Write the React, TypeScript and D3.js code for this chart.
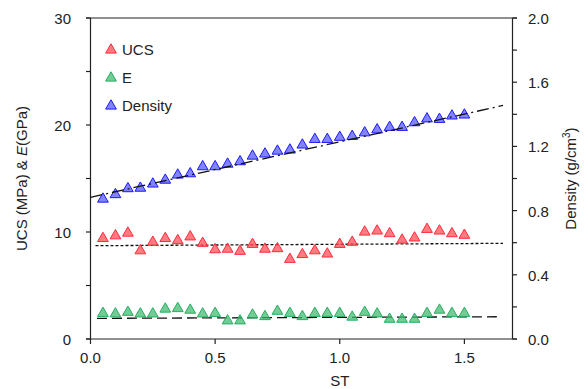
import React from "react";
import * as d3 from "d3";

const stValues = [0.05,0.1,0.15,0.2,0.25,0.3,0.35,0.4,0.45,0.5,0.55,0.6,0.65,0.7,0.75,0.8,0.85,0.9,0.95,1.0,1.05,1.1,1.15,1.2,1.25,1.3,1.35,1.4,1.45,1.5];
const ucsValues = [9.4,9.65,9.9,8.25,9.05,9.4,9.2,9.55,8.95,8.35,8.4,8.2,8.85,8.4,8.45,7.45,7.9,8.25,7.95,8.85,9.05,10.0,10.1,9.85,9.25,9.45,10.25,10.1,9.85,9.7];
const eValues = [2.4,2.35,2.5,2.35,2.35,2.8,2.85,2.7,2.35,2.4,1.7,1.7,2.25,2.1,2.6,2.4,2.1,2.4,2.4,2.4,2.05,2.5,2.35,1.85,1.85,1.85,2.4,2.7,2.4,2.4];
const densityValues = [0.872,0.9,0.937,0.94,0.966,0.99,1.022,1.03,1.074,1.074,1.09,1.105,1.14,1.153,1.171,1.178,1.209,1.244,1.244,1.257,1.263,1.285,1.304,1.319,1.319,1.348,1.372,1.369,1.39,1.396];

const ucsFit = [[0.02, 8.72],[1.655, 8.94]];
const eFit = [[0.026, 1.93],[1.63, 2.08]];
const densityFit = [[0.0, 0.883],[1.655, 1.455]];

const xTicks = [0, 0.5, 1.0, 1.5];
const leftTicks = [0, 5, 10, 15, 20, 25, 30];
const leftLabels = [0, 10, 20, 30];
const rightTicks = [0, 0.2, 0.4, 0.6, 0.8, 1.0, 1.2, 1.4, 1.6, 1.8, 2.0];
const rightLabels = [0, 0.4, 0.8, 1.2, 1.6, 2.0];

const legendItems = ["UCS", "E", "Density"];

const FONT = "'Liberation Sans', Arial, sans-serif";

export default function App() {
  const W = 588, H = 389;
  const x = d3.scaleLinear().domain([0, 1.693]).range([90.5, 512.5]);
  const yL = d3.scaleLinear().domain([0, 30]).range([339, 18]);
  const yR = d3.scaleLinear().domain([0, 2]).range([339, 18]);
  const tri = d3.symbol().type(d3.symbolTriangle).size(50)();
  const line = d3.line();

  const series = [
    { name: "UCS", vals: ucsValues, y: yL, fill: "rgba(255,70,80,0.72)", stroke: "#ff2b3a" },
    { name: "E", vals: eValues, y: yL, fill: "rgba(60,185,110,0.72)", stroke: "#27ae60" },
    { name: "Density", vals: densityValues, y: yR, fill: "rgba(90,90,255,0.75)", stroke: "#1a1aff" },
  ];

  const fitPath = (pts: number[][], y: any) =>
    line(pts.map((p) => [x(p[0]), y(p[1])] as [number, number])) || "";

  return (
    <svg width={W} height={H} style={{ position: "absolute", left: 0, top: 0, background: "#fff" }} fontFamily={FONT}>
      {/* frame */}
      <line x1={x(0)} x2={x(0)} y1={18} y2={339} stroke="#222" strokeWidth={1.2} />
      <line x1={512.5} x2={512.5} y1={18} y2={339} stroke="#222" strokeWidth={1.2} />
      <line x1={86} x2={517} y1={18} y2={18} stroke="#222" strokeWidth={1.2} />
      <line x1={86} x2={517} y1={339} y2={339} stroke="#222" strokeWidth={1.2} />

      {/* x ticks */}
      {xTicks.map((t) => (
        <g key={"x" + t}>
          <line x1={x(t)} x2={x(t)} y1={339} y2={344} stroke="#222" strokeWidth={1.2} />
          <text x={x(t)} y={363} textAnchor="middle" fontSize={15} fill="#222">{t.toFixed(1)}</text>
        </g>
      ))}
      <text x={x(1.0)} y={386} textAnchor="middle" fontSize={15} fill="#222">ST</text>

      {/* left ticks */}
      {leftTicks.map((t) => (
        <line key={"l" + t} x1={86} x2={x(0)} y1={yL(t)} y2={yL(t)} stroke="#222" strokeWidth={1.2} />
      ))}
      {leftLabels.map((t) => (
        <text key={"ll" + t} x={71} y={yL(t) + 6} textAnchor="end" fontSize={15} fill="#222">{t}</text>
      ))}
      <text transform={`translate(27,${yL(15)}) rotate(-90)`} textAnchor="middle" fontSize={15} fill="#222">
        UCS (MPa) &amp; <tspan fontStyle="italic">E</tspan>(GPa)
      </text>

      {/* right ticks */}
      {rightTicks.map((t) => (
        <line key={"r" + t} x1={512.5} x2={517} y1={yR(t)} y2={yR(t)} stroke="#222" strokeWidth={1.2} />
      ))}
      {rightLabels.map((t) => (
        <text key={"rl" + t} x={528} y={yR(t) + 6} textAnchor="start" fontSize={15} fill="#222">{t.toFixed(1)}</text>
      ))}
      <text transform={`translate(576,${yL(15)}) rotate(-90)`} textAnchor="middle" fontSize={15} fill="#222">
        Density (g/cm<tspan dy={-6} fontSize={10}>3</tspan><tspan dy={6}>)</tspan>
      </text>

      {/* fit lines */}
      <path d={fitPath(ucsFit, yL)} stroke="#111" strokeWidth={1.3} strokeDasharray="3,2" fill="none" />
      <path d={fitPath(eFit, yL)} stroke="#111" strokeWidth={1.3} strokeDasharray="10,5" fill="none" />

      {/* points */}
      {series.map((s) => (
        <g key={s.name}>
          {s.vals.map((v, i) => (
            <path key={i} d={tri} transform={`translate(${x(stValues[i])},${s.y(v)})`} fill={s.fill} stroke={s.stroke} strokeWidth={1} />
          ))}
        </g>
      ))}
      <path d={fitPath(densityFit, yR)} stroke="#111" strokeWidth={1.3} strokeDasharray="12,4,2,4" fill="none" />

      {/* legend */}
      {legendItems.map((name, i) => (
        <g key={name} transform={`translate(0,${i * 28})`}>
          <path d={tri} transform={`translate(111,50)`} fill={series[i].fill} stroke={series[i].stroke} strokeWidth={1} />
          <text x={122} y={55} fontSize={15} fill="#222">{name}</text>
        </g>
      ))}
    </svg>
  );
}
